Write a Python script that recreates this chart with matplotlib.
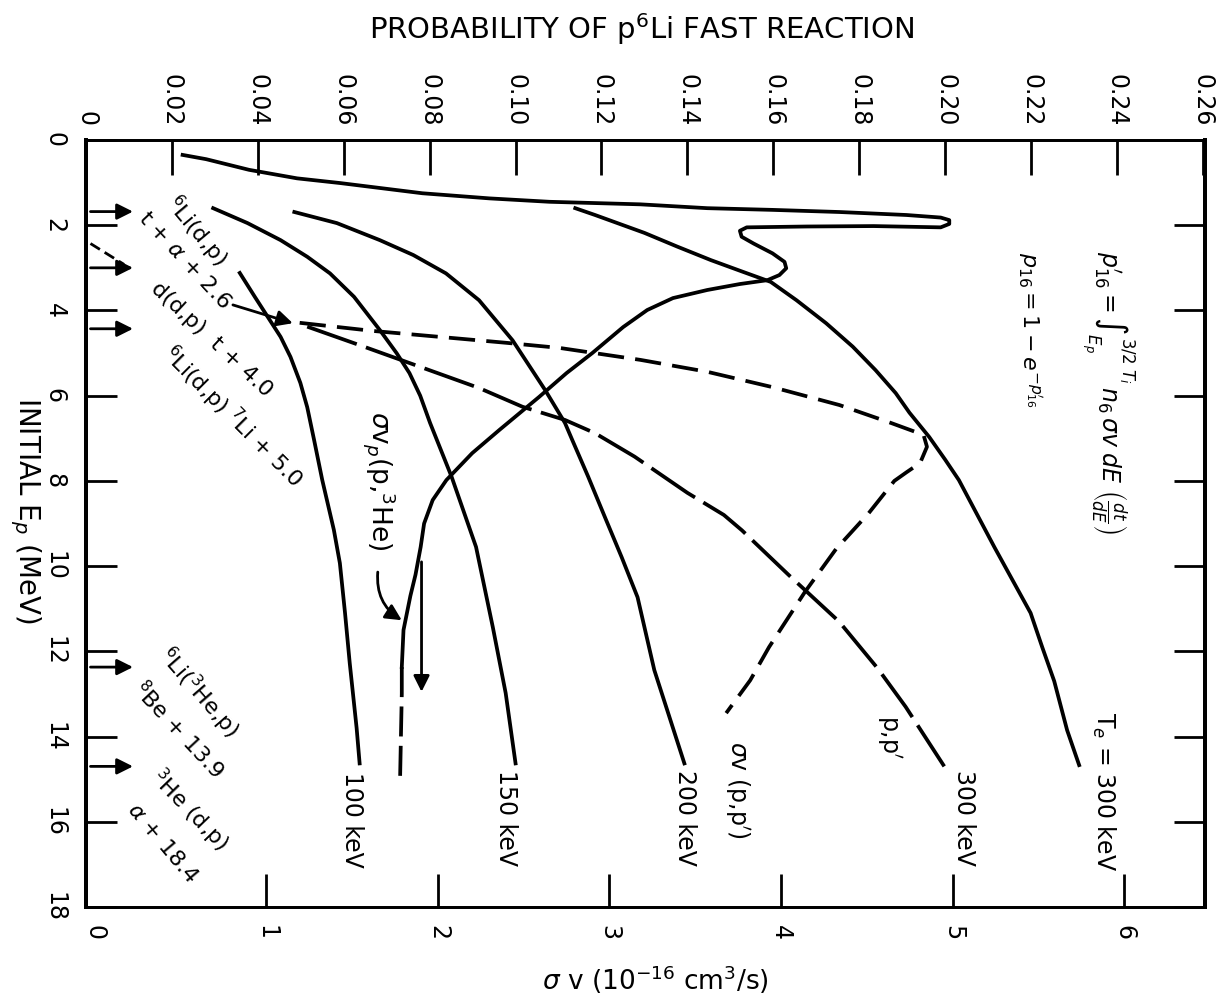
import numpy as np
import matplotlib
matplotlib.use("Agg")
import matplotlib.pyplot as plt
import matplotlib.transforms as mtransforms

plt.rcParams["font.family"] = ["DejaVu Sans"]
plt.rcParams["mathtext.fontset"] = "dejavusans"

# ---------------- data ----------------
# Probability of p-6Li fast reaction (top axis) vs initial Ep (MeV)
Ep_100 = [3.12, 3.68, 4.15, 4.62, 5.09, 5.7, 6.27, 7.04, 7.98, 9.15, 9.93, 11.1, 12.28, 13.8, 14.63]
P_100 = [0.0358, 0.0393, 0.0423, 0.0453, 0.0476, 0.0499, 0.0515, 0.0531, 0.0550, 0.0577,
         0.0591, 0.0603, 0.0614, 0.0630, 0.0637]

Ep_150 = [1.6, 1.95, 2.35, 2.74, 3.13, 3.68, 4.46, 5.0, 5.47, 6.0, 6.64, 7.9, 9.55, 11.43, 12.98, 14.63]
P_150 = [0.0296, 0.0376, 0.0453, 0.0515, 0.0568, 0.0624, 0.0684, 0.0723, 0.0753, 0.0778,
         0.0801, 0.0851, 0.0908, 0.0947, 0.0977, 0.1000]

Ep_200 = [1.69, 1.95, 2.35, 2.7, 3.13, 3.76, 4.7, 5.87, 6.64, 7.04, 7.9, 8.85, 9.79, 10.73, 12.44, 14.63]
P_200 = [0.0485, 0.0584, 0.0684, 0.0762, 0.0838, 0.0915, 0.0993, 0.1069, 0.1115, 0.1132,
         0.1169, 0.1208, 0.1247, 0.1284, 0.1323, 0.1393]

Ep_300 = [1.6, 1.76, 2.18, 2.5, 2.82, 3.1, 3.33, 3.76, 4.3, 4.85, 5.4, 5.94, 6.4, 6.97, 7.5,
          7.98, 9.56, 10.33, 11.1, 11.9, 12.7, 13.85, 14.67]
P_300 = [0.1139, 0.1185, 0.1300, 0.1376, 0.1455, 0.1531, 0.1594, 0.1654, 0.1723, 0.1785,
         0.1838, 0.1885, 0.1917, 0.1963, 0.2000, 0.2032, 0.2115, 0.2157, 0.2199, 0.2226,
         0.2254, 0.2284, 0.2312]

# p,p' probability at 300 keV (long dashes, top axis)
Ep_pp300 = [4.38, 4.85, 5.4, 5.82, 6.26, 6.57, 6.88, 7.43, 8.28, 8.8, 9.16, 10.2, 11.3, 12.4, 13.3, 14.7]
P_pp300 = [0.0515, 0.0647, 0.0799, 0.0915, 0.1016, 0.1115, 0.1185, 0.1277, 0.1400, 0.1485,
           0.1527, 0.1635, 0.1753, 0.1843, 0.1908, 0.1998]

# sigma v (p,p') (short dashes, bottom axis, 1e-16 cm^3/s)
Ep_svpp = [4.29, 4.48, 4.62, 4.76, 4.88, 5.16, 5.44, 5.8, 6.22, 6.64, 6.92, 7.2, 7.58, 7.8,
           8.0, 8.76, 9.6, 10.6, 11.9, 12.68, 13.45]
SV_svpp = [1.195, 1.62, 2.01, 2.40, 2.71, 3.18, 3.57, 3.95, 4.34, 4.64, 4.83, 4.85, 4.81, 4.73,
           4.66, 4.51, 4.32, 4.14, 3.93, 3.82, 3.68]

# sigma v_p (p,3He) (solid, bottom axis), then dashed tail
Ep_svp = [0.35, 0.45, 0.70, 0.90, 1.01, 1.25, 1.37, 1.45, 1.51, 1.60, 1.64, 1.69, 1.76, 1.82,
          1.88, 1.97, 2.05, 2.02, 2.03, 2.05, 2.13, 2.27, 2.43, 2.66, 2.86, 3.01, 3.17, 3.29,
          3.38, 3.52, 3.71, 3.99, 4.39, 5.0, 5.47, 6.03, 6.8, 7.35, 7.98, 8.45, 9.0, 9.55,
          10.2, 10.7, 11.5, 12.37]
SV_svp = [0.513, 0.65, 0.90, 1.18, 1.43, 1.91, 2.30, 2.65, 3.18, 3.57, 3.95, 4.34, 4.73, 4.93,
          4.98, 4.98, 4.93, 4.54, 4.15, 3.80, 3.76, 3.77, 3.84, 3.95, 4.02, 4.03, 3.99, 3.92,
          3.76, 3.57, 3.37, 3.22, 3.08, 2.90, 2.75, 2.59, 2.36, 2.20, 2.05, 1.97, 1.92, 1.90,
          1.87, 1.84, 1.80, 1.79]
Ep_svp_tail = [12.37, 13.0, 15.0]
SV_svp_tail = [1.79, 1.79, 1.78]

# proton energies of source reactions (arrows on the left axis)
reaction_Ep = [1.68, 3.0, 4.43, 12.37, 14.7]

bottom_ticks = [0, 1, 2, 3, 4, 5, 6]
top_ticks = [0, 0.02, 0.04, 0.06, 0.08, 0.10, 0.12, 0.14, 0.16, 0.18, 0.20, 0.22, 0.24, 0.26]
top_labels = ["0", "0.02", "0.04", "0.06", "0.08", "0.10", "0.12", "0.14", "0.16", "0.18",
              "0.20", "0.22", "0.24", "0.26"]
left_ticks = [0, 2, 4, 6, 8, 10, 12, 14, 16, 18]

# ---------------- figure ----------------
W, H = 1222, 1007
fig = plt.figure(figsize=(W / 100, H / 100), dpi=100)


def F(x, y):
    return (x / W, 1 - y / H)


L, R, T, B = 86, 1205, 140, 907
ax = fig.add_axes([L / W, 1 - B / H, (R - L) / W, (B - T) / H])
ax.set_xlim(-0.05, 6.47)
ax.set_ylim(18, 0)
ax2 = ax.twiny()
ax2.set_xlim(0.002, 0.2605)
ax2.set_ylim(18, 0)

fs = 17
ax.set_xticks(bottom_ticks)
ax.set_xticklabels([str(t) for t in bottom_ticks])
ax.set_yticks(left_ticks)
ax.set_yticklabels([str(t) for t in left_ticks])
ax.tick_params(axis="x", direction="in", length=24, width=2, pad=13, labelsize=fs,
               labelrotation=-90)
ax.tick_params(axis="y", direction="in", length=22, width=2, pad=14, labelsize=fs,
               labelrotation=-90, left=True, right=True)
ax2.set_xticks(top_ticks)
ax2.set_xticklabels(top_labels)
ax2.tick_params(axis="x", direction="in", length=25, width=2, pad=10, labelsize=fs,
                labelrotation=-90)
for lab in ax.get_yticklabels():
    lab.set_va("center")
# no tick mark at sigma v = 0 (it sits on the frame)
ax.xaxis.get_major_ticks()[0].tick1line.set_visible(False)

for a in (ax, ax2):
    a.spines["left"].set_linewidth(2.8)
    a.spines["right"].set_linewidth(2.8)
    a.spines["bottom"].set_linewidth(2.0)
    a.spines["top"].set_linewidth(2.0)

lw = 2.7
kw = dict(color="black", lw=lw, solid_joinstyle="round", dash_joinstyle="round")
ax2.plot(P_100, Ep_100, **kw)
ax2.plot(P_150, Ep_150, **kw)
ax2.plot(P_200, Ep_200, **kw)
ax2.plot(P_300, Ep_300, **kw)
ax2.plot(P_pp300, Ep_pp300, dashes=(14, 2.6), **kw)
ax.plot(SV_svpp, Ep_svpp, dashes=(7, 3), **kw)
ax.plot(SV_svp, Ep_svp, **kw)
ax.plot(SV_svp_tail, Ep_svp_tail, dashes=(8, 2.5), **kw)

# arrows on the left edge
trans = mtransforms.blended_transform_factory(ax.transAxes, ax.transData)
ap = dict(arrowstyle="-|>", lw=2, color="black", mutation_scale=24, shrinkA=0, shrinkB=0)
for e in reaction_Ep:
    ax.annotate("", xy=(0.042, e), xytext=(0.004, e), xycoords=trans, textcoords=trans,
                arrowprops=ap)
ax.plot([0.004, 0.034], [2.43, 2.92], transform=trans, color="black", lw=2, dashes=(4, 2))

# leader arrow to start of dashed curves
ax.annotate("", xy=(1.155, 4.30), xytext=(0.806, 3.87), arrowprops=ap)
# arrow from sigma v_p label
ax.annotate("", xy=(1.79, 11.27), xytext=(1.65, 10.14),
            arrowprops=dict(ap, connectionstyle="arc3,rad=0.3"))
# vertical arrow
ax.annotate("", xy=(1.905, 12.95), xytext=(1.905, 9.9), arrowprops=ap)

# ---------------- texts ----------------
fig.text(*F(642, 29), r"PROBABILITY OF p$^6$Li FAST REACTION", ha="center", va="center",
         fontsize=21)
fig.text(*F(655, 980), r"$\sigma$ v (10$^{-16}$ cm$^3$/s)", ha="center", va="center",
         fontsize=19)
fig.text(*F(25, 510), r"INITIAL E$_p$ (MeV)", ha="center", va="center", rotation=-90,
         fontsize=20)

diag = [
    (r"$^6$Li(d,p)", 197, 231, -50),
    (r"t + $\alpha$ + 2.6", 184, 260, -47),
    (r"d(d,p)  t + 4.0", 212, 340, -43),
    (r"$^6$Li(d,p) $^7$Li + 5.0", 232, 417, -45),
    (r"$^6$Li($^3$He,p)", 199, 693, -49),
    (r"$^8$Be + 13.9", 179, 730, -47),
    (r"$^3$He (d,p)", 190, 810, -46),
    (r"$\alpha$ + 18.4", 163, 843, -50),
]
for s, x, y, r in diag:
    fig.text(*F(x, y), s, ha="center", va="center", rotation=r, rotation_mode="anchor",
             fontsize=16)

vert = [
    ("100 keV", 352, 820, 17),
    ("150 keV", 506, 818, 17),
    ("200 keV", 685, 818, 17),
    (r"$\sigma$v (p,p$'$)", 737, 790, 17),
    (r"p,p$'$", 889, 737, 17),
    ("300 keV", 964, 818, 17),
    (r"T$_e$ = 300 keV", 1104, 792, 17),
    (r"$\sigma$v$_p$(p,$^3$He)", 379, 481, 19),
]
for s, x, y, f in vert:
    fig.text(*F(x, y), s, ha="center", va="center", rotation=-90, fontsize=f)

fig.text(*F(1108, 393),
         r"$p_{16}^{\prime} = \int_{E_p}^{3/2\ T_i}\, n_6\,\sigma v\; dE\ \left(\frac{dt}{dE}\right)$",
         ha="center", va="center", rotation=-90, fontsize=17)
fig.text(*F(1030, 330), r"$p_{16} = 1 - e^{-p_{16}^{\prime}}$", ha="center", va="center",
         rotation=-90, fontsize=16)

fig.savefig("out.png", dpi=100)
